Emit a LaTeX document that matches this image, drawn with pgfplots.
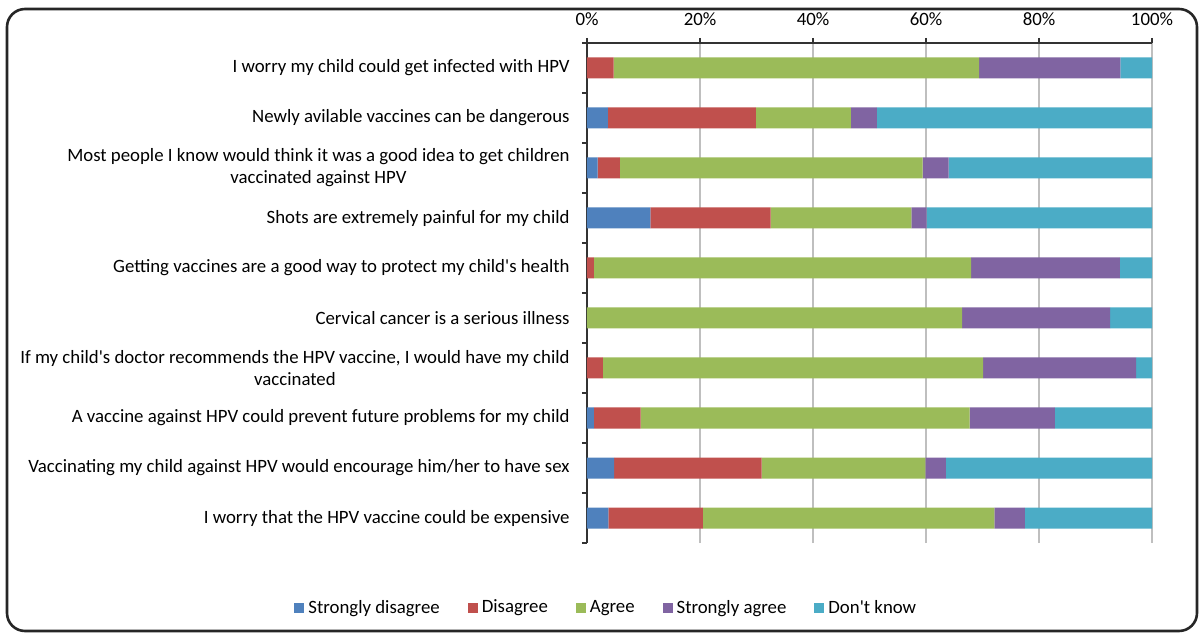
\documentclass[border=0pt]{standalone}
\usepackage{pgfplots}
\usepackage{pgfplotstable}
\pgfplotsset{compat=1.18}
\usepackage{fontspec}
\setmainfont{Carlito}
\definecolor{cSD}{HTML}{4F81BD}
\definecolor{cD}{HTML}{C0504D}
\definecolor{cA}{HTML}{9BBB59}
\definecolor{cSA}{HTML}{8064A2}
\definecolor{cDK}{HTML}{4BACC6}
\pgfplotstableread{
y  sd    d     a     sa    dk
10 0.0   4.7   64.7  25.0  5.6
9  3.7   26.2  16.8  4.6   48.7
8  1.9   3.9   53.6  4.6   36.0
7  11.2  21.3  24.9  2.7   39.9
6  0.0   1.2   66.8  26.3  5.7
5  0.0   0.0   66.4  26.2  7.4
4  0.0   2.8   67.3  27.1  2.8
3  1.2   8.3   58.2  15.1  17.2
2  4.8   26.1  29.0  3.6   36.5
1  3.8   16.7  51.6  5.4   22.5
}\datatable
\begin{document}
\begin{tikzpicture}
\useasboundingbox (0pt,0pt) rectangle (600pt,316.5pt);
\draw[line width=1.3pt, rounded corners=9pt, color=black!85] (3.5pt,1pt) rectangle (598.5pt,312pt);
\begin{axis}[
  at={(293.5pt,45pt)}, anchor=south west,
  scale only axis, width=282.5pt, height=250pt,
  xbar stacked, bar width=10.5pt,
  xmin=0, xmax=100, ymin=0.5, ymax=10.5,
  axis x line*=top, axis y line*=left,
  axis line style={black!80, line width=0.7pt},
  tick align=outside,
  major tick length=2.5pt, minor tick length=2.5pt,
  xtick={0,20,...,100},
  xticklabel={\pgfmathprintnumber{\tick}\%},
  /pgf/number format/assume math mode=true,
  xmajorgrids, grid style={black!25, line width=0.9pt},
  every major x tick/.append style={black!80, line width=0.7pt},
  ytick={1,...,10},
  minor ytick={0.5,1.5,...,10.5},
  every major y tick/.append style={draw=none},
  every minor y tick/.append style={black!80, line width=0.7pt},
  yticklabels={
    {I worry that the HPV vaccine could be expensive},
    {Vaccinating my child against HPV would encourage him/her to have sex},
    {A vaccine against HPV could prevent future problems for my child},
    {If my child\textquotesingle s doctor recommends the HPV vaccine, I would have my child\\vaccinated},
    {Cervical cancer is a serious illness},
    {Getting vaccines are a good way to protect my child\textquotesingle s health},
    {Shots are extremely painful for my child},
    {Most people I know would think it was a good idea to get children\\vaccinated against HPV},
    {Newly avilable vaccines can be dangerous},
    {I worry my child could get infected with HPV}},
  yticklabel style={font=\fontsize{9.4pt}{11pt}\selectfont, align=center, inner sep=0pt, xshift=-6pt},
  xticklabel style={font=\fontsize{9.4pt}{11pt}\selectfont, inner sep=0pt, yshift=6pt},
  legend columns=5,
  legend style={draw=none, fill=none, at={(0.036,-0.13)}, anchor=center,
    font=\fontsize{9.4pt}{11pt}\selectfont,
    /tikz/every even column/.append style={column sep=12pt}},
  legend image code/.code={\fill[#1] (0pt,-2.5pt) rectangle (5pt,2.5pt);},
]
\addplot[fill=cSD, draw=none] table[x=sd, y=y] {\datatable};
\addplot[fill=cD, draw=none] table[x=d, y=y] {\datatable};
\addplot[fill=cA, draw=none] table[x=a, y=y] {\datatable};
\addplot[fill=cSA, draw=none] table[x=sa, y=y] {\datatable};
\addplot[fill=cDK, draw=none] table[x=dk, y=y] {\datatable};
\legend{Strongly disagree, Disagree, Agree, Strongly agree, Don\textquotesingle t know}
\end{axis}
\end{tikzpicture}
\end{document}
